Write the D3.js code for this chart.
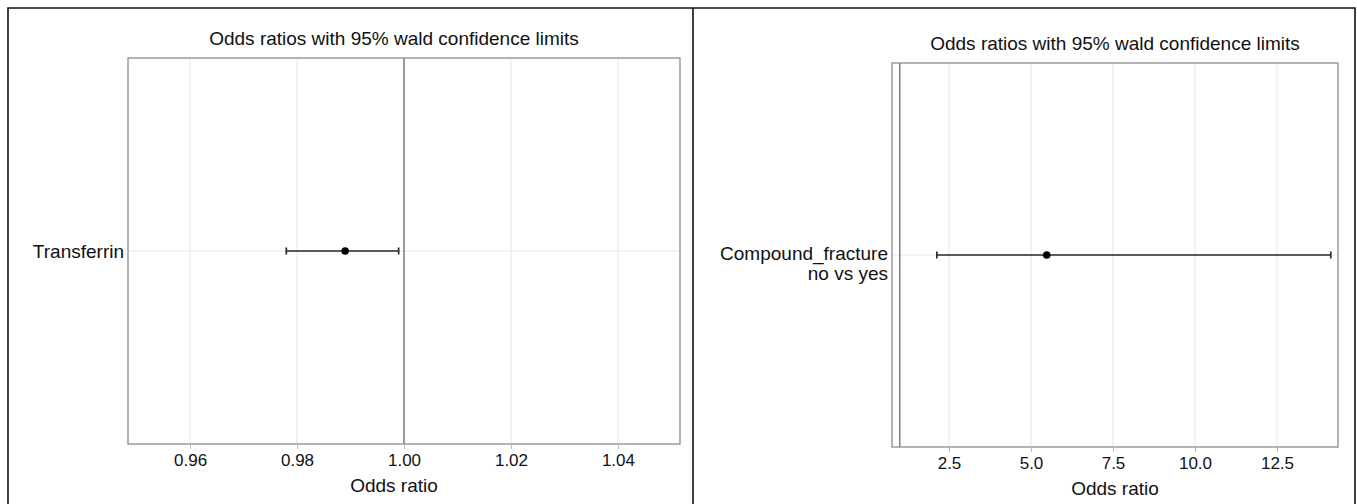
<!DOCTYPE html>
<html>
<head>
<meta charset="utf-8">
<script src="https://cdn.jsdelivr.net/npm/d3@7"></script>
<style>
  body { margin: 0; background: #fff; }
  text { font-family: "Liberation Sans", Arial, sans-serif; fill: #111; }
</style>
</head>
<body>
<div id="chart"></div>
<script>
// Data
const titleText = "Odds ratios with 95% wald confidence limits"
const axisLabel = "Odds ratio"

const leftEffects = [["Transferrin"]]
const leftOR = [0.989]
const leftLower = [0.978]
const leftUpper = [0.999]
const leftTicks = [0.96, 0.98, 1.00, 1.02, 1.04]
const leftDomain = [0.9484, 1.0516]

const rightEffects = [["Compound_fracture", "no vs yes"]]
const rightOR = [5.48]
const rightLower = [2.13]
const rightUpper = [14.14]
const rightTicks = [2.5, 5.0, 7.5, 10.0, 12.5]
const rightDomain = [0.762, 14.36]

const W = 1357, H = 504

const svg = d3.select("#chart").append("svg")
  .attr("width", W)
  .attr("height", H)

// outer frame (no bottom edge, it is cut off in the picture)
const frame = svg.append("g").attr("stroke", "#111").attr("stroke-width", 1.6).attr("fill", "none")
frame.append("path").attr("d", "M8,504 V8 H1355 V504")
frame.append("line").attr("x1", 693).attr("x2", 693).attr("y1", 8).attr("y2", 504)

function drawPanel(p) {
  const g = svg.append("g")

  const x = d3.scaleLinear().domain(p.domain).range([p.left, p.right])
  const rows = p.effects.map((d, i) => i)
  const y = d3.scalePoint().domain(rows).range([p.top, p.bottom]).padding(0.5)

  // gridlines
  g.selectAll("line.vgrid")
    .data(p.ticks)
    .enter().append("line")
    .attr("class", "vgrid")
    .attr("x1", d => x(d)).attr("x2", d => x(d))
    .attr("y1", p.top).attr("y2", p.bottom)
    .style("stroke", "#e6e6e6")
    .style("stroke-width", 1)

  g.selectAll("line.hgrid")
    .data(rows)
    .enter().append("line")
    .attr("class", "hgrid")
    .attr("x1", p.left).attr("x2", p.right)
    .attr("y1", d => y(d)).attr("y2", d => y(d))
    .style("stroke", "#e6e6e6")
    .style("stroke-width", 1)

  // reference line at 1
  g.append("line")
    .attr("x1", x(1)).attr("x2", x(1))
    .attr("y1", p.top).attr("y2", p.bottom)
    .style("stroke", "#6a6a6a")
    .style("stroke-width", 1.3)

  // plot box
  g.append("rect")
    .attr("x", p.left).attr("y", p.top)
    .attr("width", p.right - p.left).attr("height", p.bottom - p.top)
    .attr("fill", "none")
    .style("stroke", "#8c8c8c")
    .style("stroke-width", 1.3)

  // x axis
  const xAxis = d3.axisBottom(x)
    .tickValues(p.ticks)
    .tickFormat(d3.format(p.fmt))
    .tickSize(5)
    .tickPadding(5)

  g.append("g")
    .attr("transform", "translate(0," + p.bottom + ")")
    .call(xAxis)
    .call(a => a.select(".domain").remove())
    .call(a => a.selectAll(".tick line").style("stroke", "#bbb"))
    .call(a => a.selectAll(".tick text")
      .style("font-size", "17px")
      .style("font-family", "Liberation Sans, Arial, sans-serif")
      .attr("fill", "#111"))

  // confidence limits
  const cap = 3.5
  p.effects.forEach((d, i) => {
    const yy = y(i)
    g.append("line")
      .attr("x1", x(p.lower[i])).attr("x2", x(p.upper[i]))
      .attr("y1", yy).attr("y2", yy)
      .style("stroke", "#2a2a2a").style("stroke-width", 1.7)
    ;[p.lower[i], p.upper[i]].forEach(v => {
      g.append("line")
        .attr("x1", x(v)).attr("x2", x(v))
        .attr("y1", yy - cap).attr("y2", yy + cap)
        .style("stroke", "#2a2a2a").style("stroke-width", 1.7)
    })
    g.append("circle")
      .attr("cx", x(p.or[i])).attr("cy", yy)
      .attr("r", 3.8)
      .attr("fill", "#000")

    // effect label, possibly on two lines
    const lbl = g.append("text")
      .attr("x", p.left - 4)
      .attr("y", yy + 7 - (d.length - 1) * 2)
      .attr("text-anchor", "end")
      .style("font-size", "19px")
    d.forEach((line, k) => {
      lbl.append("tspan")
        .attr("x", p.left - 4)
        .attr("dy", k === 0 ? 0 : 20)
        .text(line)
    })
  })

  // title and axis label
  g.append("text")
    .attr("x", (p.left + p.right) / 2 + p.titleShift)
    .attr("y", p.top - 13)
    .attr("text-anchor", "middle")
    .style("font-size", "19px")
    .text(titleText)

  g.append("text")
    .attr("x", (p.left + p.right) / 2 + p.titleShift)
    .attr("y", p.bottom + 48)
    .attr("text-anchor", "middle")
    .style("font-size", "19px")
    .text(axisLabel)
}

drawPanel({
  effects: leftEffects, or: leftOR, lower: leftLower, upper: leftUpper,
  ticks: leftTicks, domain: leftDomain, fmt: ".2f",
  left: 128, right: 680, top: 58, bottom: 444, titleShift: -10
})

drawPanel({
  effects: rightEffects, or: rightOR, lower: rightLower, upper: rightUpper,
  ticks: rightTicks, domain: rightDomain, fmt: ".1f",
  left: 892, right: 1338, top: 63, bottom: 447, titleShift: 0
})
</script>
</body>
</html>
